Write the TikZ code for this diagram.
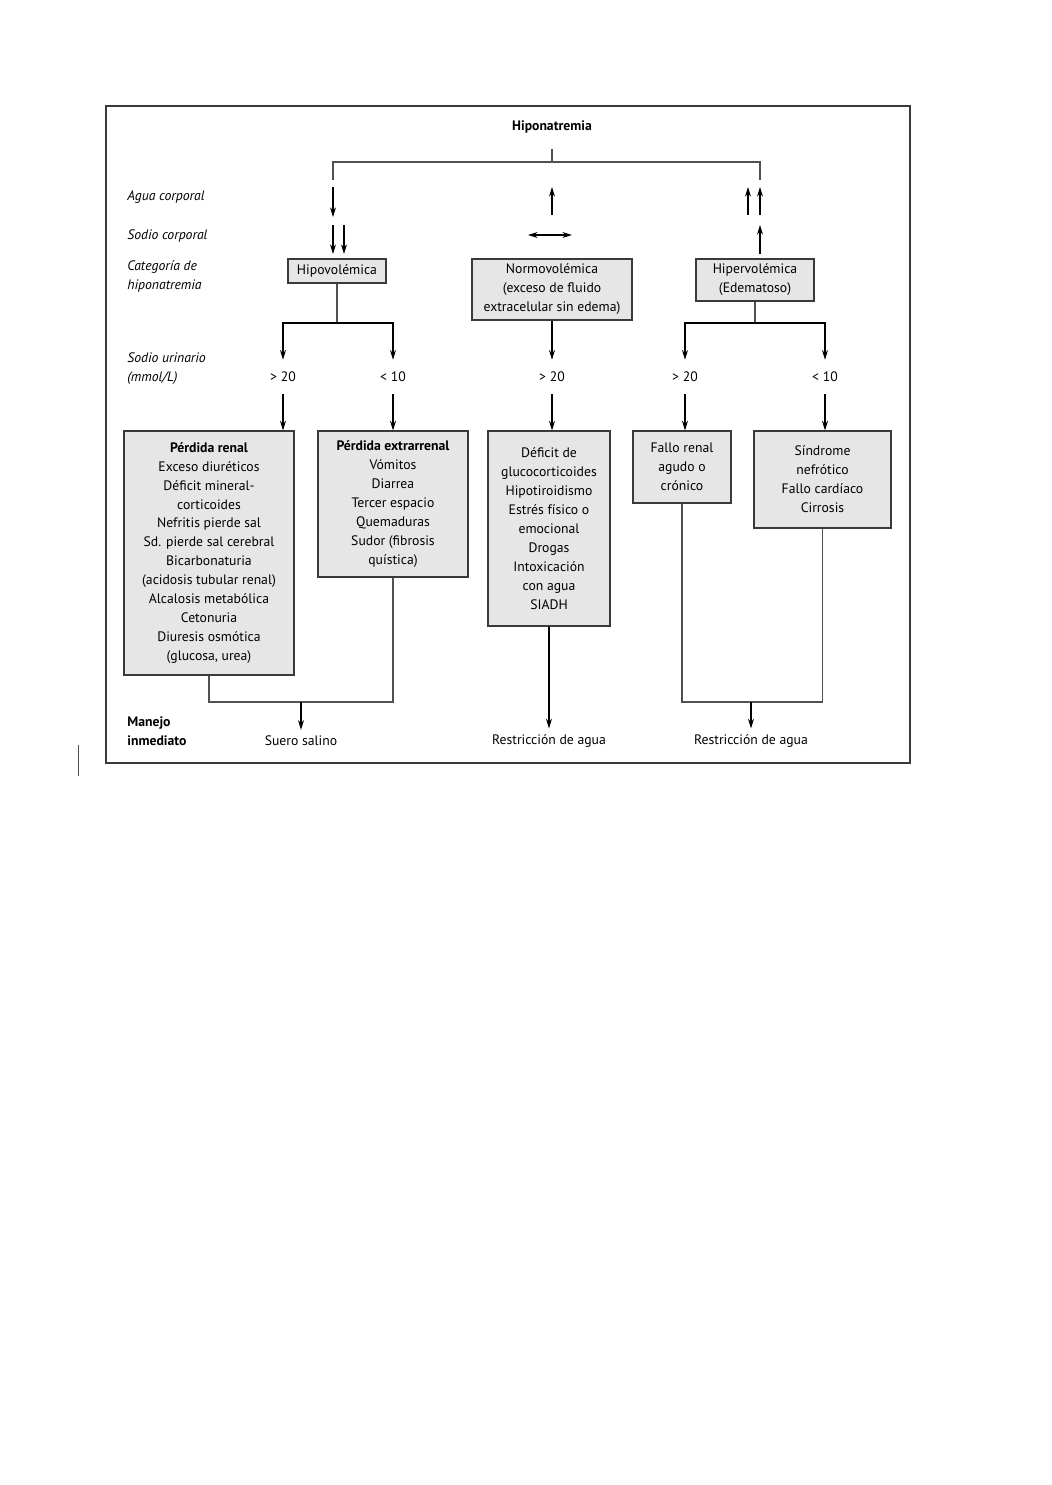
\documentclass[tikz,border=0pt]{standalone}
\usepackage{fontspec}
\setmainfont{PT Sans}
\usepackage{tikz}
\usetikzlibrary{
  arrows.meta,
  positioning
}
\definecolor{boxfill}{HTML}{E6E6E6}
\definecolor{linkcolor}{HTML}{505050}
\definecolor{framecolor}{HTML}{3A3A3A}

\begin{document}
\begin{tikzpicture}[
  x=0.02cm, y=-0.02cm,
  >={Stealth[length=5.5pt,width=3.4pt]},
  every node/.style={font=\fontsize{7.8}{10.8}\selectfont},
  cat/.style={draw=framecolor, fill=boxfill, align=center, inner sep=0pt, line width=0.7pt},
  rowlbl/.style={anchor=west, align=left, inner sep=0pt, font=\fontsize{7.8}{10.8}\selectfont\itshape},
  val/.style={minimum height=0.68cm, inner sep=0pt},
  lnk/.style={draw=linkcolor, line width=0.65pt},
  arr/.style={->, draw=black, line width=0.6pt},
]
  \useasboundingbox (0,0) rectangle (1052,1485);

  % Outer frame
  \draw[draw=framecolor, line width=0.8pt] (106,106) rectangle (910,763);
  \draw[black!70, line width=0.5pt] (78,745) -- (78,776);

  % Title and top branching
  \node[font=\fontsize{7.8}{10.8}\selectfont\bfseries] (title) at (552,127) {Hiponatremia};
  \coordinate (hub) at (552,162);
  \draw[lnk] (title.south) ++(0,10) -- (hub);
  \draw[lnk] (333,180) |- (hub) -| (760,180);

  % Row labels
  \node[rowlbl] (agua) at (127,197) {Agua corporal};
  \node[rowlbl] (sodio) at (127,236) {Sodio corporal};
  \node[rowlbl] (categ) at (127,276) {Categoría de\\hiponatremia};
  \node[rowlbl] (urin) at (127,369) {Sodio urinario\\(mmol/L)};
  \node[rowlbl, font=\fontsize{7.8}{10.8}\selectfont\bfseries] (manejo) at (127,731) {Manejo\\inmediato};

  % Body water / sodium symbols
  \draw[arr] (333,187) -- (333,217);
  \draw[arr] (552,215) -- (552,187);
  \draw[arr] (748,215) -- (748,187);
  \draw[arr] (760,215) -- (760,187);
  \draw[arr] (333,225) -- (333,254);
  \draw[arr] (344,225) -- (344,254);
  \draw[arr, <->] (528,235) -- (572,235);
  \draw[arr] (760,254) -- (760,225);

  % Categories
  \node[cat, minimum width=1.96cm, minimum height=0.48cm] (hipo) at (337,271) {Hipovolémica};
  \node[cat, minimum width=3.2cm, minimum height=1.22cm] (normo) at (552,289.5)
    {Normovolémica\\(exceso de fluido\\extracelular sin edema)};
  \node[cat, minimum width=2.36cm, minimum height=0.84cm] (hiper) at (755,280)
    {Hipervolémica\\(Edematoso)};

  % Urinary sodium values
  \node[val] (v1) at (283,377) {> 20};
  \node[val] (v2) at (393,377) {< 10};
  \node[val] (v3) at (552,377) {> 20};
  \node[val] (v4) at (685,377) {> 20};
  \node[val] (v5) at (825,377) {< 10};

  \coordinate (hipoSplit) at (337,323);
  \draw[lnk] (hipo.south) -- (hipoSplit);
  \draw[arr] (hipoSplit) -| (v1.north);
  \draw[arr] (hipoSplit) -| (v2.north);
  \draw[arr] (normo.south) -- (v3.north);
  \coordinate (hiperSplit) at (755,323);
  \draw[lnk] (hiper.south) -- (hiperSplit);
  \draw[arr] (hiperSplit) -| (v4.north);
  \draw[arr] (hiperSplit) -| (v5.north);

  % Causes
  \node[cat, minimum width=3.4cm, minimum height=4.88cm] (renal) at (209,553)
    {\textbf{Pérdida renal}\\Exceso diuréticos\\Déficit mineral-\\corticoides\\Nefritis pierde sal\\Sd. pierde sal cerebral\\Bicarbonaturia\\(acidosis tubular renal)\\Alcalosis metabólica\\Cetonuria\\Diuresis osmótica\\(glucosa, urea)};
  \node[cat, minimum width=3.0cm, minimum height=2.92cm] (extra) at (393,504)
    {\textbf{Pérdida extrarrenal}\\Vómitos\\Diarrea\\Tercer espacio\\Quemaduras\\Sudor (fibrosis\\quística)};
  \node[cat, minimum width=2.44cm, minimum height=3.9cm] (deficit) at (549,528.5)
    {Déficit de\\glucocorticoides\\Hipotiroidismo\\Estrés físico o\\emocional\\Drogas\\Intoxicación\\con agua\\SIADH};
  \node[cat, minimum width=1.96cm, minimum height=1.44cm] (fallo) at (682,467)
    {Fallo renal\\agudo o\\crónico};
  \node[cat, minimum width=2.74cm, minimum height=1.94cm] (sindrome) at (822.5,479.5)
    {Síndrome\\nefrótico\\Fallo cardíaco\\Cirrosis};

  \draw[arr] (v1.south) -- (v1.south |- renal.north);
  \draw[arr] (v2.south) -- (v2.south |- extra.north);
  \draw[arr] (v3.south) -- (v3.south |- deficit.north);
  \draw[arr] (v4.south) -- (v4.south |- fallo.north);
  \draw[arr] (v5.south) -- (v5.south |- sindrome.north);

  % Immediate management
  \node (suero) at (301,741) {Suero salino};
  \node (restr1) at (549,741) {Restricción de agua};
  \node (restr2) at (751,741) {Restricción de agua};

  \coordinate (salMerge) at (301,702);
  \draw[lnk] (renal.south) |- (salMerge) -| (extra.south);
  \draw[arr] (salMerge) -- (suero.north);
  \draw[arr] (deficit.south) -- (deficit.south |- restr1.north);
  \coordinate (aguaMerge) at (751,702);
  \draw[lnk] (fallo.south) |- (aguaMerge) -| (sindrome.south);
  \draw[arr] (aguaMerge) -- (restr2.north);
\end{tikzpicture}
\end{document}
